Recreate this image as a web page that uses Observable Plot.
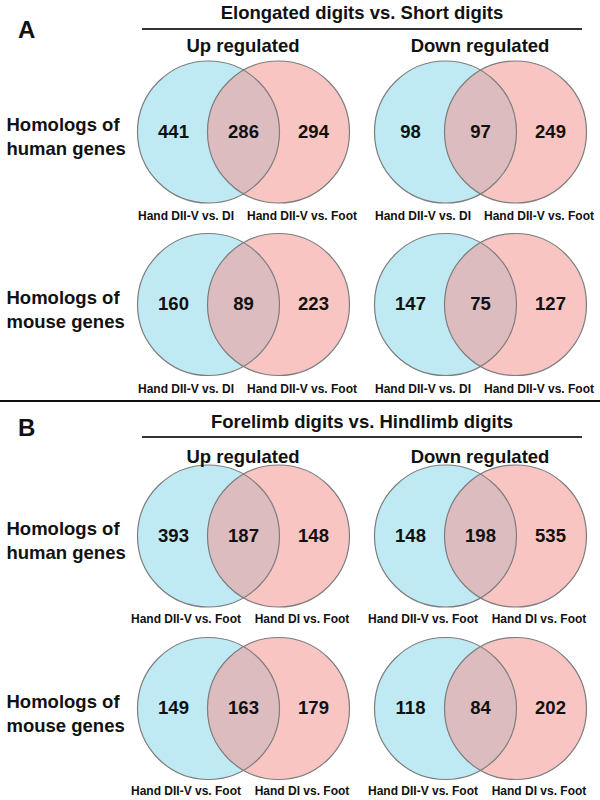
<!DOCTYPE html>
<html><head><meta charset="utf-8">
<script src="https://cdn.jsdelivr.net/npm/d3@7"></script>
<script src="https://cdn.jsdelivr.net/npm/@observablehq/plot@0.6"></script>
<style>
body{margin:0;background:#fff;}
#wrap{position:relative;width:600px;height:800px;font-family:"Liberation Sans",Arial,sans-serif;color:#111;overflow:hidden;}
.pane{position:absolute;left:0;}
.letter{position:absolute;left:18px;font-size:24px;font-weight:bold;line-height:1;}
.title{position:absolute;left:142px;width:440px;text-align:center;font-size:18.5px;font-weight:bold;line-height:1;}
.rule{position:absolute;left:142px;width:440px;height:2px;background:#333;}
.sep{position:absolute;left:0;width:600px;height:2px;background:#111;}
</style></head>
<body>
<div id="wrap">
  <div class="pane" id="panelA" style="top:0px"></div>
  <div class="pane" id="panelB" style="top:404px"></div>
  <div class="letter" style="top:18px">A</div>
  <div class="title" style="top:4px">Elongated digits vs. Short digits</div>
  <div class="rule" style="top:28px"></div>
  <div class="sep" style="top:400px"></div>
  <div class="letter" style="top:416px">B</div>
  <div class="title" style="top:413px">Forelimb digits vs. Hindlimb digits</div>
  <div class="rule" style="top:436px"></div>
</div>
<script>
const directions = ["Up regulated", "Down regulated"];
const species = ["human", "mouse"];
const rowLabels = ["Homologs of\nhuman genes", "Homologs of\nmouse genes"];
const regions = ["onlyA", "setA", "both", "setB", "onlyB"];

// order of values: [human up, human down, mouse up, mouse down]
const aLeftOnly = [441, 98, 160, 147];
const aBoth = [286, 97, 89, 75];
const aRightOnly = [294, 249, 223, 127];
const aSetNames = ["Hand DII-V vs. DI", "Hand DII-V vs. Foot"];

const bLeftOnly = [393, 148, 149, 118];
const bBoth = [187, 198, 163, 84];
const bRightOnly = [148, 535, 179, 202];
const bSetNames = ["Hand DII-V vs. Foot", "Hand DI vs. Foot"];

const FONT = '"Liberation Sans", Arial, sans-serif';

function panel(leftOnly, both, rightOnly, setNames, height, marginBottom, headerDy, labelDy) {
  const cells = d3.range(4).map(i => ({dir: directions[i % 2], sp: species[Math.floor(i / 2)], i}));
  const counts = cells.flatMap(c => [
    {...c, region: "onlyA", n: leftOnly[c.i]},
    {...c, region: "both", n: both[c.i]},
    {...c, region: "onlyB", n: rightOnly[c.i]}
  ]);
  const circA = cells.map(c => ({...c, region: "setA", name: setNames[0]}));
  const circB = cells.map(c => ({...c, region: "setB", name: setNames[1]}));
  const pos = {x: "region", fx: "dir", fy: "sp"};
  return Plot.plot({
    width: 600, height,
    marginTop: 47, marginLeft: 136, marginRight: 14, marginBottom,
    style: {background: "transparent", fontFamily: FONT, overflow: "visible", color: "#111"},
    facet: {marginTop: 0, marginRight: 0, marginBottom: 0, marginLeft: 0},
    fx: {domain: directions, paddingInner: 24 / 237, paddingOuter: 0, round: false},
    fy: {domain: species, paddingInner: 3.5 / 172.5, paddingOuter: 0, round: false},
    x: {type: "point", domain: regions, padding: 1, axis: null},
    marks: [
      Plot.dot(circA, {...pos, r: 71, fill: "#bfeaf4", stroke: "none"}),
      Plot.dot(circB, {...pos, r: 71, fill: "rgb(244,150,146)", fillOpacity: 0.55, stroke: "none"}),
      Plot.dot([...circA, ...circB], {...pos, r: 71, fill: "none", stroke: "#7d7d7d", strokeWidth: 1.2}),
      Plot.text(counts, {...pos, text: "n", fontSize: 18.5, fontWeight: "bold", fill: "#111"}),
      Plot.text(circA, {...pos, text: "name", frameAnchor: "bottom", lineAnchor: "middle", dx: -22.5, dy: labelDy, fontSize: 12, fontWeight: "bold", fill: "#111"}),
      Plot.text(circB, {...pos, text: "name", frameAnchor: "bottom", lineAnchor: "middle", dx: 23.5, dy: labelDy, fontSize: 12, fontWeight: "bold", fill: "#111"}),
      Plot.axisFx({anchor: "top", label: null, tickSize: 0, tickPadding: 0, fontSize: 18.5, fontWeight: "bold", lineAnchor: "middle", dy: headerDy}),
      Plot.axisFy({anchor: "left", label: null, tickSize: 0, tickPadding: 0,
        tickFormat: d => rowLabels[species.indexOf(d)],
        textAnchor: "start", dx: -130, dy: 3.5, fontSize: 18.5, fontWeight: "bold", lineHeight: 1.3})
    ]
  });
}

document.getElementById("panelA").append(panel(aLeftOnly, aBoth, aRightOnly, aSetNames, 401, 12.5, -1, 0));
document.getElementById("panelB").append(panel(bLeftOnly, bBoth, bRightOnly, bSetNames, 396, 7.5, 6, -1.5));
</script>
</body></html>
